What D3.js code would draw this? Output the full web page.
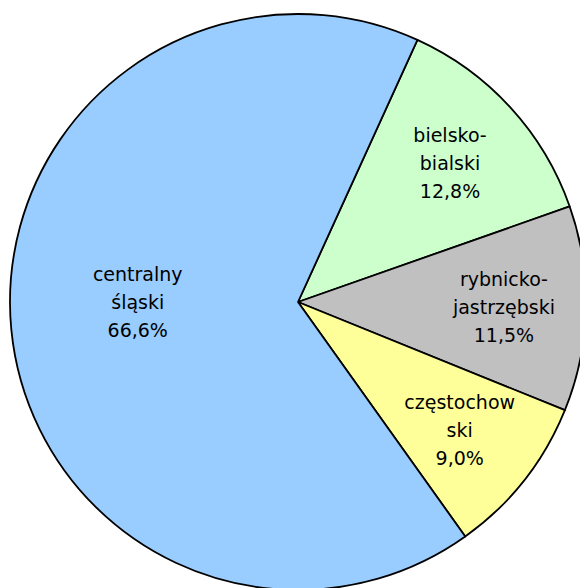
<html>
<head>
<meta charset="utf-8">
<title>Pie</title>
<style>
body { margin: 0; background: #fff; }
text { font-family: "DejaVu Sans", Verdana, sans-serif; font-size: 19px; fill: #000; }
</style>
</head>
<body>
<script src="https://d3js.org/d3.v7.min.js"></script>
<script>
// regiony (kolejnosc zgodnie z ruchem wskazowek zegara)
var categories = ["bielsko-bialski", "rybnicko-jastrzębski", "częstochowski", "centralny śląski"];
var labelLines = [["bielsko-", "bialski"], ["rybnicko-", "jastrzębski"], ["częstochow", "ski"], ["centralny", "śląski"]];
var values = [12.8, 11.5, 9.0, 66.6];
var colors = ["#ccffcc", "#c0c0c0", "#ffff99", "#99ccff"];

var width = 580, height = 588;
var cx = 298, cy = 302, r = 288;

var svg = d3.select("body").append("svg")
  .attr("width", width)
  .attr("height", height);

var g = svg.append("g").attr("transform", "translate(" + cx + "," + cy + ")");

var start = 24.5 * Math.PI / 180;
var pie = d3.pie()
  .sort(null)
  .value(function(d) { return d; })
  .startAngle(start)
  .endAngle(start + 2 * Math.PI);

var arcs = pie(values);

var arc = d3.arc().innerRadius(0).outerRadius(r);

g.selectAll("path.slice")
  .data(arcs)
  .enter().append("path")
  .attr("class", "slice")
  .attr("d", arc)
  .attr("fill", function(d, i) { return colors[i]; })
  .attr("stroke", "#000")
  .attr("stroke-width", 1.8)
  .attr("stroke-linejoin", "round");

// etykiety
function labelPos(d) {
  var a = (d.startAngle + d.endAngle) / 2;
  if (d.value > 50) return [Math.sin(a) * 161, 0];
  return [Math.sin(a) * 206, -Math.cos(a) * 206];
}

var lineH = 28;
arcs.forEach(function(d, i) {
  var p = labelPos(d);
  var lines = labelLines[i].concat([d3.format(".1f")(values[i]).replace(".", ",") + "%"]);
  var t = g.append("text")
    .attr("text-anchor", "middle")
    .attr("transform", "translate(" + p[0] + "," + p[1] + ")");
  lines.forEach(function(s, k) {
    t.append("tspan")
      .attr("x", 0)
      .attr("y", (k - 1) * lineH + 7)
      .text(s);
  });
});
</script>
</body>
</html>
